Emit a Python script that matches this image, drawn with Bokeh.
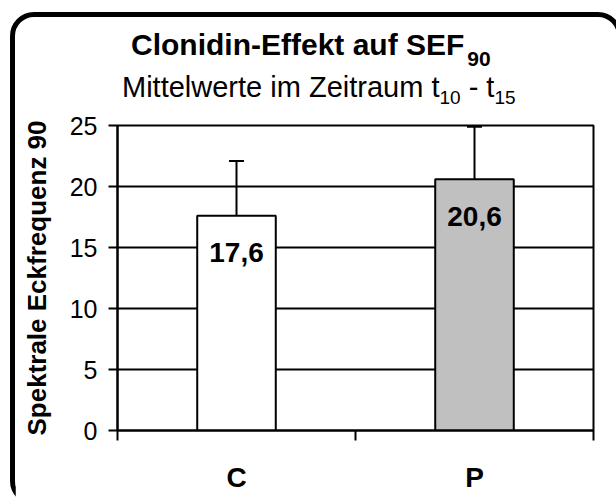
from bokeh.plotting import figure
from bokeh.models import Range1d, FixedTicker, ColumnDataSource, Whisker, TeeHead, Div
from bokeh.layouts import column
from bokeh.core.properties import value
from bokeh.embed import file_html
from bokeh.resources import INLINE

# ---- data ----
categories = ["C", "P"]
means = [17.6, 20.6]
errors = [4.5, 4.3]
bar_colors = ["#ffffff", "#c0c0c0"]
y_ticks = [0, 5, 10, 15, 20, 25]

title_main, title_sub = "Clonidin-Effekt auf SEF", "90"
subtitle_parts = ["Mittelwerte im Zeitraum t", "10", " - t", "15"]
y_label = "Spektrale Eckfrequenz 90"

FONT = "Liberation Sans"

xs = [i + 0.5 for i in range(len(categories))]
src = ColumnDataSource(dict(
    x=xs,
    mean=means,
    upper=[m + e for m, e in zip(means, errors)],
    color=bar_colors,
    label=[f"{m:.1f}".replace(".", ",") for m in means],
))

p = figure(width=602, height=393, output_backend="svg", toolbar_location=None,
           x_range=Range1d(0, len(categories)), y_range=Range1d(0, 25),
           min_border_left=102, min_border_right=24, min_border_top=18, min_border_bottom=70)
p.background_fill_color = "white"
p.border_fill_color = "white"
p.outline_line_color = "black"
p.outline_line_width = 2

p.vbar(x="x", top="mean", bottom=0, width=0.33, source=src, fill_color="color",
       line_color="black", line_width=2)

wh = Whisker(source=src, base="x", lower="mean", upper="upper", line_color="black",
             line_width=2, lower_head=None,
             upper_head=TeeHead(size=15, line_color="black", line_width=2), level="overlay")
p.add_layout(wh)

p.text(x="x", y="mean", text="label", source=src, text_align="center", text_baseline="middle",
       y_offset=37, text_font=value(FONT), text_font_style="bold", text_font_size="28px",
       text_color="black")

p.xgrid.grid_line_color = None
p.ygrid.grid_line_color = "black"
p.ygrid.grid_line_width = 2
p.ygrid.ticker = FixedTicker(ticks=y_ticks)

ya = p.yaxis[0]
ya.ticker = FixedTicker(ticks=y_ticks)
ya.axis_line_color = "black"
ya.axis_line_width = 2
ya.major_tick_line_color = "black"
ya.major_tick_line_width = 2
ya.major_tick_out = 9
ya.major_tick_in = 0
ya.minor_tick_line_color = None
ya.major_label_text_font = FONT
ya.major_label_text_font_size = "25px"
ya.major_label_text_color = "black"
ya.major_label_standoff = 11
ya.axis_label = y_label
ya.axis_label_text_font = FONT
ya.axis_label_text_font_size = "26px"
ya.axis_label_text_font_style = "bold"
ya.axis_label_text_color = "black"
ya.axis_label_standoff = 15

xa = p.xaxis[0]
xa.ticker = FixedTicker(ticks=xs, minor_ticks=list(range(len(categories) + 1)))
xa.major_label_overrides = {x: c for x, c in zip(xs, categories)}
xa.axis_line_color = "black"
xa.axis_line_width = 2
xa.major_tick_line_color = None
xa.major_tick_out = 0
xa.major_tick_in = 0
xa.minor_tick_line_color = "black"
xa.minor_tick_line_width = 2
xa.minor_tick_out = 10
xa.minor_tick_in = 0
xa.major_label_text_font = FONT
xa.major_label_text_font_size = "28px"
xa.major_label_text_font_style = "bold"
xa.major_label_text_color = "black"
xa.major_label_standoff = 21

# ---- header (title + subtitle with subscripts) ----
sub = lambda t, size, dy, ml=0: (f'<span style="font-size:{size}px;position:relative;top:{dy}px;'
                                 f'margin-left:{ml}px;">{t}</span>')
header_html = (
    f'<div style="position:relative;width:602px;height:90px;font-family:\'{FONT}\';color:black;">'
    f'<div style="position:absolute;left:116px;top:12.6px;white-space:nowrap;font-weight:bold;'
    f'font-size:30px;line-height:30px;">{title_main}{sub(title_sub, 21, 11, 3)}</div>'
    f'<div style="position:absolute;left:107px;top:55.5px;white-space:nowrap;'
    f'font-size:29px;line-height:29px;">{subtitle_parts[0]}{sub(subtitle_parts[1], 19, 7)}'
    f'{subtitle_parts[2]}{sub(subtitle_parts[3], 19, 7)}</div>'
    f'</div>'
)
header = Div(text=header_html, width=602, height=90, styles={"margin": "0", "padding": "0"})

inner = column(header, p, spacing=0,
               styles={"border": "5px solid black", "border-radius": "24px",
                       "margin-left": "10px", "margin-top": "12px", "background": "white"})
root = column(inner, width=616, height=500, styles={"overflow": "hidden"})

open("out.html", "w").write(file_html(root, INLINE))
